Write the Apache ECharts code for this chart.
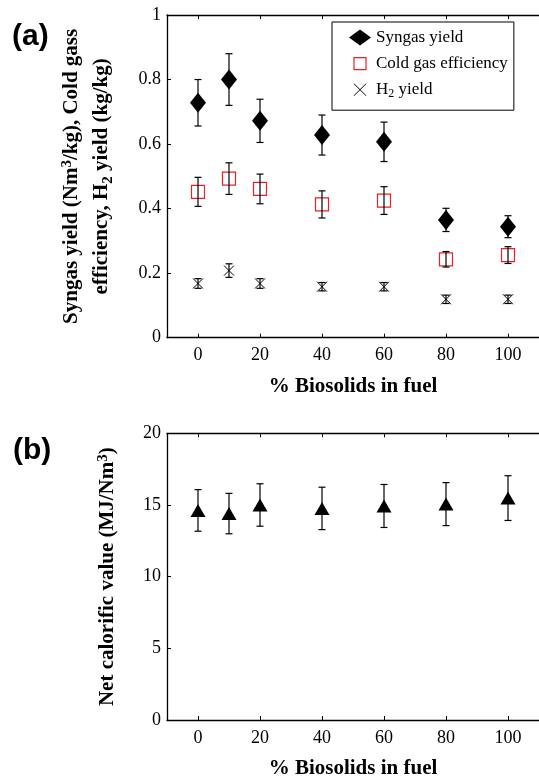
<!DOCTYPE html>
<html>
<head>
<meta charset="utf-8">
<script src="https://cdn.jsdelivr.net/npm/echarts@6/dist/echarts.min.js"></script>
<style>
  html, body { margin: 0; padding: 0; background: #fff; }
  #chart { width: 539px; height: 780px; }
</style>
</head>
<body>
<div id="chart"></div>
<script>
let myChart = echarts.init(document.querySelector("#chart"), null, {
    width: 539,
    height: 780
});

// % biosolids in fuel
const biosolids = [0, 10, 20, 40, 60, 80, 100];
const xTicks = [0, 20, 40, 60, 80, 100];

// (a) values and half-widths of the error bars
const syngasYield = [0.728, 0.800, 0.672, 0.628, 0.607, 0.365, 0.344];
const syngasErr   = [0.072, 0.080, 0.067, 0.062, 0.061, 0.036, 0.034];
const coldGasEff  = [0.452, 0.493, 0.461, 0.413, 0.425, 0.243, 0.256];
const coldGasErr  = [0.045, 0.049, 0.046, 0.042, 0.043, 0.024, 0.026];
const h2Yield     = [0.168, 0.208, 0.168, 0.158, 0.158, 0.119, 0.119];
const h2Err       = [0.015, 0.021, 0.015, 0.013, 0.013, 0.013, 0.013];

// (b) net calorific value
const netCv    = [14.62, 14.40, 15.00, 14.76, 14.93, 15.06, 15.48];
const netCvErr = [1.45, 1.41, 1.48, 1.48, 1.50, 1.50, 1.56];

const SERIF = 'Liberation Serif';
const RED = '#e8202a';

const points = (ys) => biosolids.map((x, i) => [x, ys[i]]);
const bars = (ys, err) => biosolids.map((x, i) => [x, ys[i] - err[i], ys[i] + err[i]]);

function errorBar(params, api) {
    const x = api.value(0);
    const lo = api.coord([x, api.value(1)]);
    const hi = api.coord([x, api.value(2)]);
    const w = 3.5;
    const st = { stroke: '#000', lineWidth: 1.2 };
    return {
        type: 'group',
        children: [
            { type: 'line', shape: { x1: lo[0], y1: lo[1], x2: hi[0], y2: hi[1] }, style: st },
            { type: 'line', shape: { x1: hi[0] - w, y1: hi[1], x2: hi[0] + w, y2: hi[1] }, style: st },
            { type: 'line', shape: { x1: lo[0] - w, y1: lo[1], x2: lo[0] + w, y2: lo[1] }, style: st }
        ]
    };
}

const errSeries = (name, ys, err, axis) => ({
    name: name,
    type: 'custom',
    xAxisIndex: axis * 2,
    yAxisIndex: axis,
    renderItem: errorBar,
    encode: { x: 0, y: [1, 2] },
    data: bars(ys, err),
    z: 3
});

const axisLine = { onZero: false, lineStyle: { color: '#000', width: 1.3 } };
const tickIn = { inside: true, length: 4, lineStyle: { color: '#000', width: 1 } };
const nameFont = { fontFamily: SERIF, fontWeight: 'bold', fontSize: 21, color: '#000' };

function xAxes(grid) {
    return [
        {
            gridIndex: grid, type: 'value', position: 'bottom', min: -10, max: 110,
            axisLine: axisLine,
            axisTick: Object.assign({ customValues: xTicks }, tickIn),
            axisLabel: { customValues: xTicks, margin: 9, fontFamily: SERIF, fontSize: 18, color: '#000' },
            splitLine: { show: false },
            name: '% Biosolids in fuel', nameLocation: 'middle', nameGap: 38,
            nameTextStyle: nameFont
        },
        {
            gridIndex: grid, type: 'value', position: 'top', min: -10, max: 110,
            axisLine: axisLine,
            axisTick: Object.assign({ customValues: xTicks }, tickIn),
            axisLabel: { show: false },
            splitLine: { show: false }
        }
    ];
}

const nameRich = {
    sup: { fontFamily: SERIF, fontWeight: 'bold', fontSize: 15, color: '#000', padding: [0, 0, 10, 0] },
    sub: { fontFamily: SERIF, fontWeight: 'bold', fontSize: 15, color: '#000', padding: [13, 0, 0, 0] }
};

let option = {
    animation: false,
    backgroundColor: '#fff',
    title: [
        { text: '(a)', left: 12, top: 22, padding: 0,
          textStyle: { fontFamily: 'Liberation Sans', fontWeight: 'bold', fontSize: 30, color: '#000' } },
        { text: '(b)', left: 13, top: 436, padding: 0,
          textStyle: { fontFamily: 'Liberation Sans', fontWeight: 'bold', fontSize: 30, color: '#000' } }
    ],
    legend: {
        orient: 'vertical',
        left: 332,
        top: 22,
        padding: [7, 6, 10, 17],
        itemWidth: 22,
        itemHeight: 16,
        itemGap: 9,
        borderColor: '#000',
        borderWidth: 1,
        selectedMode: false,
        textStyle: {
            fontFamily: SERIF, fontSize: 17, color: '#000',
            rich: { sub: { fontFamily: SERIF, fontSize: 12, color: '#000', padding: [9, 0, 0, 0] } }
        },
        formatter: (name) => name === 'H2 yield' ? 'H{sub|2} yield' : name,
        data: [
            { name: 'Syngas yield', icon: 'diamond', itemStyle: { color: '#000', borderWidth: 0 } },
            { name: 'Cold gas efficiency', icon: 'path://M0,0M2,2L14,2L14,14L2,14ZM16,16',
              itemStyle: { color: 'rgba(0,0,0,0)', borderColor: RED, borderWidth: 1.2 } },
            { name: 'H2 yield', icon: 'path://M0,0M2,2L14,14M14,2L2,14M16,16',
              itemStyle: { color: 'rgba(0,0,0,0)', borderColor: '#000', borderWidth: 1 } }
        ]
    },
    grid: [
        { left: 167, top: 15, width: 384, height: 322.7 },
        { left: 167, top: 433.3, width: 384, height: 292.7 }
    ],
    xAxis: xAxes(0).concat(xAxes(1)),
    yAxis: [
        {
            gridIndex: 0, type: 'value', min: 0, max: 1, interval: 0.2,
            axisLine: Object.assign({ show: true }, axisLine),
            axisTick: tickIn,
            axisLabel: { margin: 6, fontFamily: SERIF, fontSize: 18, color: '#000',
                         formatter: (v) => String(+v.toFixed(1)) },
            splitLine: { show: false },
            name: 'Syngas yield (Nm{sup|3}/kg), Cold gass\nefficiency, H{sub|2} yield (kg/kg)',
            nameLocation: 'middle', nameGap: 50,
            nameTextStyle: Object.assign({ lineHeight: 30, rich: nameRich }, nameFont)
        },
        {
            gridIndex: 1, type: 'value', min: 0, max: 20, interval: 5,
            axisLine: Object.assign({ show: true }, axisLine),
            axisTick: tickIn,
            axisLabel: { margin: 6, fontFamily: SERIF, fontSize: 18, color: '#000' },
            splitLine: { show: false },
            name: 'Net calorific value (MJ/Nm{sup|3})',
            nameLocation: 'middle', nameGap: 44,
            nameTextStyle: Object.assign({ lineHeight: 30, rich: nameRich }, nameFont)
        }
    ],
    series: [
        errSeries('syngas err', syngasYield, syngasErr, 0),
        errSeries('cold gas err', coldGasEff, coldGasErr, 0),
        errSeries('h2 err', h2Yield, h2Err, 0),
        errSeries('ncv err', netCv, netCvErr, 1),
        {
            name: 'Syngas yield', type: 'scatter', xAxisIndex: 0, yAxisIndex: 0,
            symbol: 'diamond', symbolSize: [16, 20],
            itemStyle: { color: '#000', opacity: 1 },
            data: points(syngasYield), z: 2
        },
        {
            name: 'Cold gas efficiency', type: 'scatter', xAxisIndex: 0, yAxisIndex: 0,
            symbol: 'rect', symbolSize: 13,
            itemStyle: { color: 'rgba(0,0,0,0)', borderColor: RED, borderWidth: 1.2, opacity: 1 },
            data: points(coldGasEff), z: 2
        },
        {
            name: 'H2 yield', type: 'scatter', xAxisIndex: 0, yAxisIndex: 0,
            symbol: 'path://M0,0L10,10M10,0L0,10', symbolSize: 10,
            itemStyle: { color: 'rgba(0,0,0,0)', borderColor: '#000', borderWidth: 1, opacity: 1 },
            data: points(h2Yield), z: 2
        },
        {
            name: 'Net calorific value', type: 'scatter', xAxisIndex: 2, yAxisIndex: 1,
            symbol: 'triangle', symbolSize: [15, 13],
            itemStyle: { color: '#000', opacity: 1 },
            data: points(netCv), z: 2
        }
    ]
};

myChart.setOption(option);
</script>
</body>
</html>
